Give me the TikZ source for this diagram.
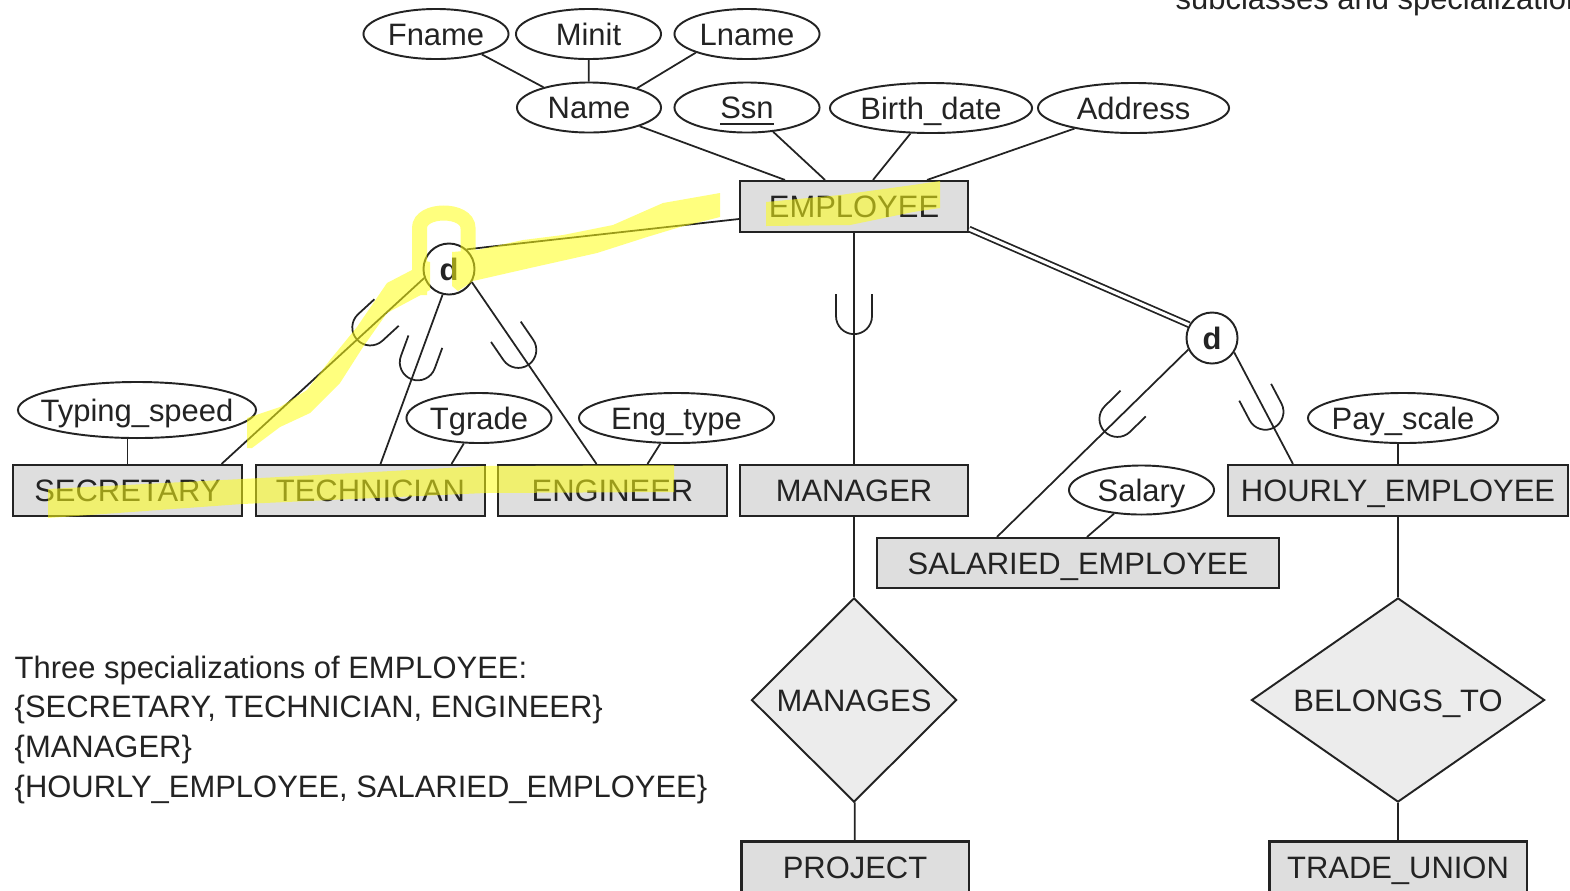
\documentclass[tikz,border=0pt]{standalone}
\usepackage{fontspec}
\setmainfont{Liberation Sans}
\usetikzlibrary{shapes.geometric,decorations.markings}
\definecolor{ink}{RGB}{35,35,35}
\definecolor{entfill}{RGB}{222,222,222}
\definecolor{relfill}{RGB}{236,236,236}
\definecolor{marker}{RGB}{255,255,20}
\begin{document}
\begin{tikzpicture}[x=0.01cm,y=-0.01cm,
  every node/.style={font=\fontsize{8.8pt}{11.3pt}\selectfont, inner sep=0pt, text=ink,
    text height=6.3pt, text depth=0pt},
  entity/.style={draw=ink, fill=entfill, line width=0.6pt, minimum height=0.51cm, minimum width=#1},
  entity/.default=2.28cm,
  attr/.style={ellipse, draw=ink, fill=white, line width=0.55pt, inner xsep=-0.2cm,
    minimum width=#1, minimum height=0.5cm},
  attr/.default=1.45cm,
  rel/.style={diamond, draw=ink, fill=relfill, line width=0.55pt, minimum width=#1, minimum height=2.04cm},
  disj/.style={circle, draw=ink, fill=white, line width=0.55pt, minimum size=0.51cm,
    font=\fontsize{8.8pt}{11pt}\selectfont\bfseries},
  conn/.style={draw=ink, line width=0.5pt},
  subsetat/.style={postaction={decorate}, decoration={markings,
    mark=at position #1 with {\draw[ink, line width=0.5pt]
      (-0.22cm,0.18cm) -- (0cm,0.18cm) arc[start angle=90, end angle=-90, radius=0.18cm] -- (-0.22cm,-0.18cm);}}},
]
\useasboundingbox (0,0) rectangle (1570,890);
\clip (0,0) rectangle (1570,890);

% superclass and its attributes
\node[entity] (emp) at (854,206.5) {EMPLOYEE};
\node[attr] (fname) at (436,34) {Fname};
\node[attr] (minit) at (588.5,34) {Minit};
\node[attr] (lname) at (747,34) {Lname};
\node[attr=1.44cm] (name) at (589,107.5) {Name};
\node[attr] (ssn) at (747,107.5) {\underline{Ssn}};
\node[attr=2.02cm] (bdate) at (931,108) {Birth\_date};
\node[attr=1.91cm] (addr) at (1133.5,108) {Address};

% subclasses
\node[entity] (sec) at (127.5,490.5) {SECRETARY};
\node[entity] (tech) at (370.5,490.5) {TECHNICIAN};
\node[entity] (eng) at (612.5,490.5) {ENGINEER};
\node[entity] (mgr) at (854,490.5) {MANAGER};
\node[entity=3.40cm] (hourly) at (1398,490.5) {HOURLY\_EMPLOYEE};
\node[entity=4.02cm, minimum height=0.5cm] (sal) at (1078,563) {SALARIED\_EMPLOYEE};

% local attributes
\node[attr=2.38cm, minimum height=0.56cm] (typ) at (137,410) {Typing\_speed};
\node[attr] (tgrade) at (479,418) {Tgrade};
\node[attr=1.95cm] (engt) at (676.5,418) {Eng\_type};
\node[attr, minimum height=0.49cm] (salary) at (1141.5,490) {Salary};
\node[attr=1.9cm] (pay) at (1403,418) {Pay\_scale};

% relationships
\node[rel=2.05cm] (manages) at (854,700) {MANAGES};
\node[rel=2.93cm, aspect=1.43] (belongs) at (1398,700) {BELONGS\_TO};
\node[entity=2.27cm] (proj) at (855,867) {PROJECT};
\node[entity=2.57cm] (trade) at (1398,867) {TRADE\_UNION};

% disjointness circles
\node[disj] (d1) at (449,269) {d};
\node[disj] (d2) at (1212,338) {d};

% attribute links
\draw[conn] (fname.-24) -- (name.156);
\draw[conn] (minit) -- (name);
\draw[conn] (lname.200) -- (name.22);
\draw[conn] (name) -- ([xshift=-0.69cm]emp.north);
\draw[conn] (ssn) -- ([xshift=-0.29cm]emp.north);
\draw[conn] (bdate) -- ([xshift=0.19cm]emp.north);
\draw[conn] (addr) -- ([xshift=0.73cm]emp.north);
\draw[conn] (sec.north) -- (sec.north |- typ.south);
\draw[conn] (tgrade) -- ([xshift=0.81cm]tech.north);
\draw[conn] (engt) -- ([xshift=0.35cm]eng.north);
\draw[conn] (salary) -- ([xshift=0.09cm]sal.north);
\draw[conn] (hourly.north) -- (hourly.north |- pay.south);

% specializations
\draw[conn] (d1.48) -- ([yshift=-0.125cm]emp.west);
\draw[conn, subsetat=0.73cm] (d1.200) -- ([xshift=0.94cm]sec.north);
\draw[conn, subsetat=0.72cm] (d1.256) -- ([xshift=0.10cm]tech.north);
\draw[conn, subsetat=0.82cm] (d1.-30) -- ([xshift=-0.16cm]eng.north);
\draw[conn, subsetat=0.83cm] (emp) -- (mgr);
\draw[conn, double=white, double distance=0.9pt] ([yshift=0.04cm]emp.south east) -- (d2.150);
\draw[conn, subsetat=0.99cm] (d2.206) -- ([xshift=-0.81cm]sal.north);
\draw[conn, subsetat=0.67cm] (d2.-33) -- ([xshift=-1.05cm]hourly.north);

% relationship links
\draw[conn] (mgr) -- (manages);
\draw[conn] (manages) -- (proj);
\draw[conn] (hourly) -- (belongs);
\draw[conn] (belongs) -- (trade);

% notes
\node[anchor=base west] (t1) at (14,678) {Three specializations of EMPLOYEE:};
\node[anchor=base west] (t2) at (14,717.7) {\{SECRETARY, TECHNICIAN, ENGINEER\}};
\node[anchor=base west] (t3) at (14,757.4) {\{MANAGER\}};
\node[anchor=base west] (t4) at (14,797) {\{HOURLY\_EMPLOYEE, SALARIED\_EMPLOYEE\}};
\node[anchor=base west] (caption) at (1175,9) {subclasses and specialization};

% highlighter strokes
\begin{scope}[transparency group, opacity=0.55]
  \draw[marker, line width=0.15cm] (419.5,295) -- (419.5,228)
    .. controls (419.5,208) and (468,208) .. (468,228) -- (468,258);
  \fill[marker] (452,252) -- (477,250) -- (523,240) -- (563,235) -- (613,225) -- (647,210)
    -- (663,203) -- (720,193) -- (720,217) -- (680,227) -- (647,237) -- (597,253)
    -- (530,268) -- (473,281) -- (458,291) -- (452,286) -- cycle;
  \fill[marker] (412,258) -- (430,262) -- (430,290) -- (387,313) -- (363,347) -- (340,383)
    -- (310,413) -- (280,427) -- (252,448) -- (247,448) -- (247,418) -- (280,407)
    -- (307,390) -- (330,360) -- (357,327) -- (387,283) -- (412,270) -- cycle;
  \fill[marker] (766,202) -- (840,195) -- (913,185) -- (940,181) -- (940,208) -- (913,212)
    -- (850,225) -- (766,226) -- cycle;
  \fill[marker] (48,489) -- (242,479) -- (485,466) -- (674,465) -- (674,492) -- (485,493)
    -- (242,504) -- (48,518) -- cycle;
\end{scope}
\end{tikzpicture}
\end{document}
